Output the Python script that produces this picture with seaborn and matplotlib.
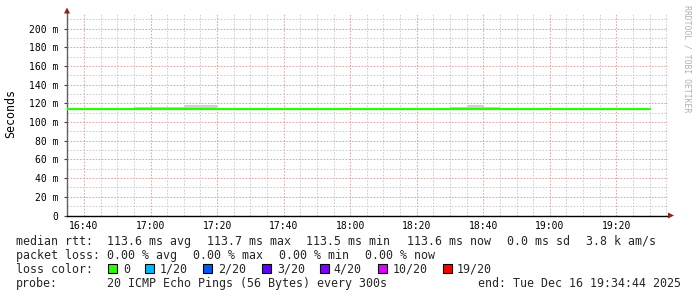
import matplotlib
matplotlib.use("Agg")
import matplotlib.pyplot as plt
from matplotlib.patches import Rectangle, Polygon
from matplotlib.transforms import Affine2D
from matplotlib.ticker import MultipleLocator, FuncFormatter
import pandas as pd
import seaborn as sns

# ---------------- data ----------------
interval_starts = ["16:35", "16:40", "16:45", "16:50", "16:55",
                   "17:00", "17:05", "17:10", "17:15", "17:20",
                   "17:25", "17:30", "17:35", "17:40", "17:45",
                   "17:50", "17:55", "18:00", "18:05", "18:10",
                   "18:15", "18:20", "18:25", "18:30", "18:35",
                   "18:40", "18:45", "18:50", "18:55", "19:00",
                   "19:05", "19:10", "19:15", "19:20", "19:25"]
interval_end = "19:30"
median_ms = [113.6, 113.6, 113.6, 113.6, 113.6,
             113.6, 113.7, 113.7, 113.6, 113.6,
             113.6, 113.6, 113.5, 113.6, 113.6,
             113.6, 113.6, 113.6, 113.6, 113.6,
             113.6, 113.5, 113.6, 113.6, 113.7,
             113.6, 113.6, 113.6, 113.6, 113.6,
             113.6, 113.6, 113.6, 113.6, 113.6]
smoke_low_ms = [113.2, 113.2, 113.2, 113.2, 113.2,
                113.2, 113.2, 113.2, 113.2, 113.2,
                113.2, 113.2, 113.2, 113.2, 113.2,
                113.2, 113.2, 113.2, 113.2, 113.2,
                113.2, 113.2, 113.2, 113.2, 113.2,
                113.2, 113.2, 113.2, 113.2, 113.2,
                113.2, 113.2, 113.2, 113.2, 113.2]
smoke_high_ms = [115.2, 115.2, 114.0, 114.0, 115.8,
                 115.8, 115.8, 118.8, 118.8, 115.2,
                 114.0, 114.0, 114.0, 114.0, 115.2,
                 115.2, 114.0, 114.0, 115.2, 114.0,
                 114.0, 114.0, 114.0, 115.8, 118.8,
                 115.8, 114.0, 114.0, 114.0, 114.0,
                 115.2, 115.2, 115.2, 115.2, 114.0]
view_start = "16:34:44"
view_end = "19:35:32"
x_tick_labels = ["16:40", "17:00", "17:20", "17:40", "18:00",
                 "18:20", "18:40", "19:00", "19:20"]
y_max_ms = 216.8

median_fields = ["113.6 ms avg", "113.7 ms max", "113.5 ms min",
                 "113.6 ms now", "0.0 ms sd", "3.8 k am/s"]
loss_fields = ["0.00 % avg", "0.00 % max", "0.00 % min", "0.00 % now"]
loss_labels = ["0", "1/20", "2/20", "3/20", "4/20", "10/20", "19/20"]
loss_colors = ["#26ff00", "#00b8ff", "#0059ff", "#5e00ff",
               "#7e00ff", "#dd00ff", "#ff0000"]
probe_text = "20 ICMP Echo Pings (56 Bytes) every 300s"
end_text = "end: Tue Dec 16 19:34:44 2025"


def to_min(s):
    parts = [int(p) for p in s.split(":")]
    while len(parts) < 3:
        parts.append(0)
    return parts[0] * 60 + parts[1] + parts[2] / 60.0


# ---------------- figure ----------------
sns.set_theme(style="white")
plt.rcParams["font.family"] = ["DejaVu Sans Mono"]

W, H = 697, 297
fig = plt.figure(figsize=(W / 100, H / 100), dpi=100)
fig.patch.set_facecolor("white")
PX = Affine2D().scale(1.0 / W, -1.0 / H).translate(0, 1) + fig.transFigure

ax_l, ax_r, ax_t, ax_b = 66.5, 668.0, 13.0, 215.5
ax = fig.add_axes([ax_l / W, 1 - ax_b / H, (ax_r - ax_l) / W, (ax_b - ax_t) / H])
ax.set_facecolor("white")

t_start = [to_min(s) for s in interval_starts]
t_all = t_start + [to_min(interval_end)]

# smoke
ax.fill_between(t_all, smoke_low_ms + [smoke_low_ms[-1]],
                smoke_high_ms + [smoke_high_ms[-1]],
                step="post", color="#cfcfcf", lw=0, zorder=2)

df = pd.DataFrame({"t": t_all, "median": median_ms + [median_ms[-1]]})
sns.lineplot(data=df, x="t", y="median", ax=ax, color="#26ff00",
             lw=1.6, drawstyle="steps-post", zorder=3)

ax.set_xlim(to_min(view_start), to_min(view_end))
ax.set_ylim(0, y_max_ms)

ax.xaxis.set_major_locator(MultipleLocator(20))
ax.xaxis.set_minor_locator(MultipleLocator(5))
ax.yaxis.set_major_locator(MultipleLocator(20))
ax.yaxis.set_minor_locator(MultipleLocator(10))
lbl_map = {to_min(s): s for s in x_tick_labels}
ax.xaxis.set_major_formatter(FuncFormatter(
    lambda v, p: lbl_map.get(round(v), "")))
ax.yaxis.set_major_formatter(FuncFormatter(
    lambda v, p: "0" if v == 0 else f"{int(round(v))} m"))

ax.grid(which="minor", color="#cdcdcd", linestyle=(0, (1.5, 1.5)), lw=0.75, zorder=0)
ax.grid(which="major", color="#eaa2a2", linestyle=(0, (1.5, 1.5)), lw=0.75, zorder=1)
ax.set_axisbelow(True)

for s in ["top", "right"]:
    ax.spines[s].set_visible(False)
ax.spines["left"].set_color("#606060")
ax.spines["left"].set_linewidth(1.0)
ax.spines["bottom"].set_color("#000000")
ax.spines["bottom"].set_linewidth(1.0)

ax.tick_params(axis="y", which="major", length=2.5, width=0.8, color="#404040",
               pad=3.2, labelsize=7, labelcolor="black", left=True)
ax.tick_params(axis="y", which="minor", length=0)
ax.tick_params(axis="x", which="both", length=0, pad=4.0, labelsize=7,
               labelcolor="black")
ax.set_xlabel("")
ax.set_ylabel("")

# arrows
arrow_c = "#8f2020"
fig.add_artist(Polygon([(64, 13.5), (70, 13.5), (67, 7.5)], closed=True,
                       transform=PX, color=arrow_c, lw=0))
fig.add_artist(Polygon([(668, 212.5), (668, 218.5), (674, 215.5)], closed=True,
                       transform=PX, color=arrow_c, lw=0))

# y label and watermark
fig.text(11, 113, "Seconds", transform=PX, rotation=90, fontsize=8.4,
         ha="center", va="center", color="black")
fig.text(687, 59, "RRDTOOL / TOBI OETIKER", transform=PX, rotation=270,
         fontsize=5.9, ha="center", va="center", color="#b0b0b0")

# legend rows
fs = 8.4
fig.text(16, 245, "median rtt:", transform=PX, fontsize=fs, va="baseline")
for x, s in zip([107, 207, 306, 407, 507, 586], median_fields):
    fig.text(x, 245, s, transform=PX, fontsize=fs, va="baseline")

fig.text(16, 259, "packet loss:", transform=PX, fontsize=fs, va="baseline")
for x, s in zip([107, 193, 279, 365], loss_fields):
    fig.text(x, 259, s, transform=PX, fontsize=fs, va="baseline")

fig.text(16, 273, "loss color:", transform=PX, fontsize=fs, va="baseline")
sq_x = [108, 145, 203, 262, 320, 378, 443]
lb_x = [123, 160, 218, 277, 333, 393, 457]
for sx, lx, lab, c in zip(sq_x, lb_x, loss_labels, loss_colors):
    fig.add_artist(Rectangle((sx, 263.5), 9, 9, transform=PX,
                             facecolor=c, edgecolor="black", lw=0.8))
    fig.text(lx, 273, lab, transform=PX, fontsize=fs, va="baseline")

fig.text(16, 287, "probe:", transform=PX, fontsize=fs, va="baseline")
fig.text(107, 287, probe_text, transform=PX, fontsize=fs, va="baseline")
fig.text(478, 287, end_text, transform=PX, fontsize=fs, va="baseline")

fig.savefig("out.png", dpi=100, facecolor="white")
